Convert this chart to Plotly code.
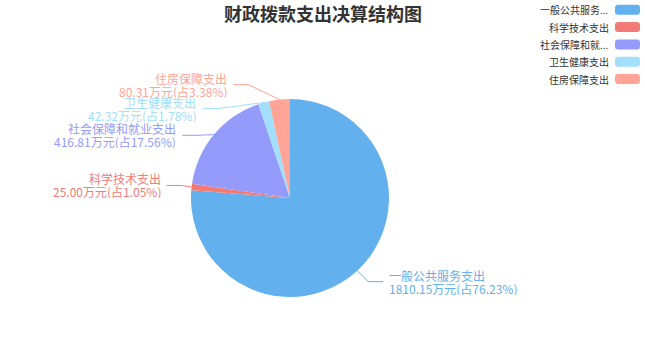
import math
import plotly.graph_objects as go

# ---- data ----
categories = ["一般公共服务支出", "科学技术支出", "社会保障和就业支出", "卫生健康支出", "住房保障支出"]
values = [1810.15, 25.00, 416.81, 42.32, 80.31]
percents = [76.23, 1.05, 17.56, 1.78, 3.38]
colors = ["#62b0ed", "#f37b76", "#949bfb", "#a1dffc", "#ffa496"]
title_text = "财政拨款支出决算结构图"

# ---- layout constants (pixels) ----
W, H = 645, 360
CX, CY, R = 290, 198, 99
LEN1, LEN2, LDIST, LBL_H = 15, 15, 5, 24
LINE_GAP = 13
FONT = "Noto Sans CJK SC, Noto Sans, sans-serif"


def px(x):
    return x / W


def py(y):
    return 1 - y / H


# ---- label layout (echarts-like) ----
total = sum(values)
items = []
acc = 0.0
for i, v in enumerate(values):
    mid = (acc + v / 2) / total * 2 * math.pi
    acc += v
    sx, sy = math.sin(mid), -math.cos(mid)
    x1, y1 = CX + R * sx, CY + R * sy
    x2, y2 = x1 + sx * LEN1, y1 + sy * LEN1
    d = -1 if sx < 0 else 1
    x3 = x2 + d * LEN2
    items.append(dict(i=i, x=x3 + d * LDIST, y=y2, p1=(x1, y1), dir=d))


def adjust(lst, d):
    lst.sort(key=lambda it: it["y"])
    n = len(lst)

    def shift_up(end, delta):
        for j in range(end, -1, -1):
            lst[j]["y"] -= delta
            if j > 0 and lst[j]["y"] > lst[j - 1]["y"] + LBL_H:
                break

    def shift_down(start, end, delta):
        for j in range(start, end):
            lst[j]["y"] += delta
            if j > start and j + 1 < end and lst[j + 1]["y"] > lst[j]["y"] + LBL_H:
                shift_up(j, delta / 2)
                return
        shift_up(end - 1, delta / 2)

    last = 0
    for k in range(n):
        delta = lst[k]["y"] - last
        if delta < 0:
            shift_down(k, n, -delta)
        last = lst[k]["y"] + LBL_H

    up = [it for it in lst if it["y"] < CY]
    down = [it for it in lst if it["y"] >= CY]
    rr = R + LEN1 + LEN2
    last_dx = 0
    for it in up:
        dy = abs(it["y"] - CY)
        dx = math.sqrt(rr * rr - dy * dy) if dy < R + LEN1 else abs(it["x"] - CX)
        if dx <= last_dx:
            dx = last_dx + 10
        it["x"] = CX + dx * d
        last_dx = dx
    last_dx = float("inf")
    for it in down:
        dy = abs(it["y"] - CY)
        dx = math.sqrt(rr * rr - dy * dy) if dy < R + LEN1 else abs(it["x"] - CX)
        if dx >= last_dx:
            dx = last_dx - 10
        it["x"] = CX + dx * d
        last_dx = dx


adjust([it for it in items if it["dir"] < 0], -1)
adjust([it for it in items if it["dir"] > 0], 1)

fig = go.Figure()
fig.add_trace(go.Pie(
    labels=categories,
    values=values,
    marker=dict(colors=colors, line=dict(width=0)),
    sort=False,
    direction="clockwise",
    rotation=0,
    textinfo="none",
    hoverinfo="label+value+percent",
    showlegend=False,
    domain=dict(x=[px(CX - R), px(CX + R)], y=[py(CY + R), py(CY - R)]),
))

shapes = []
annotations = []
for it in items:
    i, d = it["i"], it["dir"]
    lx_end = it["x"] - d * LDIST
    elbow_x = lx_end - d * LEN2
    y = it["y"]
    x1, y1 = it["p1"]
    path = f"M {px(x1)},{py(y1)} L {px(elbow_x)},{py(y)} L {px(lx_end)},{py(y)}"
    shapes.append(dict(type="path", path=path, xref="paper", yref="paper",
                       line=dict(color=colors[i], width=1), layer="above"))
    anchor = "right" if d < 0 else "left"
    line1 = categories[i]
    line2 = f"{values[i]:.2f}万元(占{percents[i]:.2f}%)"
    for txt, off in ((line1, -LINE_GAP / 2), (line2, LINE_GAP / 2)):
        annotations.append(dict(
            x=px(it["x"]), y=py(y + off), xref="paper", yref="paper",
            text=txt, showarrow=False, xanchor=anchor, yanchor="middle", align=anchor,
            borderpad=0, height=LINE_GAP, valign="middle",
            font=dict(size=12, color=colors[i], family=FONT)))

# ---- legend (custom: text left of a rounded icon) ----
LEG_X0, LEG_W, LEG_IH, LEG_Y0, LEG_GAP = 615, 25, 10, 9.7, 17.35
for k, name in enumerate(categories):
    yc = LEG_Y0 + k * LEG_GAP
    x0, x1_ = LEG_X0, LEG_X0 + LEG_W
    y0, y1_ = yc - LEG_IH / 2, yc + LEG_IH / 2
    rd = 3
    p = (f"M {px(x0 + rd)},{py(y0)} L {px(x1_ - rd)},{py(y0)} "
         f"Q {px(x1_)},{py(y0)} {px(x1_)},{py(y0 + rd)} L {px(x1_)},{py(y1_ - rd)} "
         f"Q {px(x1_)},{py(y1_)} {px(x1_ - rd)},{py(y1_)} L {px(x0 + rd)},{py(y1_)} "
         f"Q {px(x0)},{py(y1_)} {px(x0)},{py(y1_ - rd)} L {px(x0)},{py(y0 + rd)} "
         f"Q {px(x0)},{py(y0)} {px(x0 + rd)},{py(y0)} Z")
    shapes.append(dict(type="path", path=p, xref="paper", yref="paper",
                       fillcolor=colors[k], line=dict(width=0)))
    label = name if len(name) <= 6 else name[:6] + "..."
    annotations.append(dict(
        x=px(LEG_X0 - 5), y=py(yc), xref="paper", yref="paper", text=label,
        showarrow=False, xanchor="right", yanchor="middle", borderpad=0,
        font=dict(size=10, color="#333333", family=FONT)))

annotations.append(dict(
    x=0.5, y=py(13), xref="paper", yref="paper", text=f"<b>{title_text}</b>",
    showarrow=False, xanchor="center", yanchor="middle", borderpad=0,
    font=dict(size=18, color="#333333", family=FONT)))

fig.update_layout(
    width=W, height=H,
    margin=dict(l=0, r=0, t=0, b=0, pad=0),
    paper_bgcolor="white", plot_bgcolor="white",
    shapes=shapes, annotations=annotations,
    showlegend=False,
)

fig.write_html(
    "out.html",
    config={"displayModeBar": False},
    post_script="document.body.style.margin='0';document.body.style.overflow='hidden';",
)
